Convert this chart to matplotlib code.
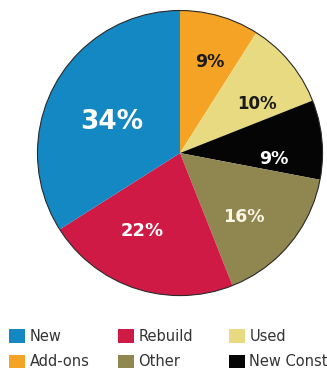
import matplotlib.pyplot as plt
from matplotlib.patches import Patch, Circle

# slices clockwise from 12 o'clock
labels = ['Add-ons', 'Used', 'New Const', 'Other', 'Rebuild', 'New']
values = [9, 10, 9, 16, 22, 34]
colors = ['#f5a324', '#e8da80', '#050505', '#8f8650', '#cf1a45', '#1488c2']

# where the percent labels sit (pie radius = 1) and how they look
text_xy = [(0.208, 0.639), (0.542, 0.347), (0.660, -0.042),
           (0.451, -0.451), (-0.264, -0.549), (-0.479, 0.215)]
text_colors = ['#1a1a1a', '#1a1a1a', 'white', '#fbf6e6', 'white', 'white']
text_size = [12.5, 12, 12.5, 12.5, 13, 19]

fig = plt.figure(figsize=(3.27, 3.72), dpi=100)
ax = fig.add_axes([0.110, 0.2016, 0.881, 0.774])

wedges, _ = ax.pie(values, colors=colors, startangle=90, counterclock=False,
                   radius=1, wedgeprops=dict(linewidth=0))
ax.add_patch(Circle((0, 0), 1, fill=False, edgecolor='#2a2a2a', lw=0.8))

for (x, y), v, c, s in zip(text_xy, values, text_colors, text_size):
    ax.text(x, y, '%d%%' % v, color=c, fontsize=s, fontweight='bold',
            ha='center', va='center', family='DejaVu Sans')

ax.set_xlim(-1.01, 1.01)
ax.set_ylim(-1.01, 1.01)
ax.set_aspect('equal')
ax.axis('off')

# legend: three columns of two entries
columns = [['New', 'Add-ons'], ['Rebuild', 'Other'], ['Used', 'New Const']]
col_left = [9, 118, 229]  # px
for names, xl in zip(columns, col_left):
    handles = [Patch(facecolor=colors[labels.index(n)], edgecolor='none', label=n)
               for n in names]
    leg = fig.legend(handles=handles, loc='upper left',
                     bbox_to_anchor=(xl / 327, 1 - 329 / 372),
                     frameon=False, borderpad=0, borderaxespad=0,
                     handlelength=1.1, handleheight=1.05, handletextpad=0.3,
                     labelspacing=0.72,
                     prop={'family': 'DejaVu Sans', 'size': 10.5})
    for t in leg.get_texts():
        t.set_color('#333333')

fig.savefig('out.png', dpi=100)
